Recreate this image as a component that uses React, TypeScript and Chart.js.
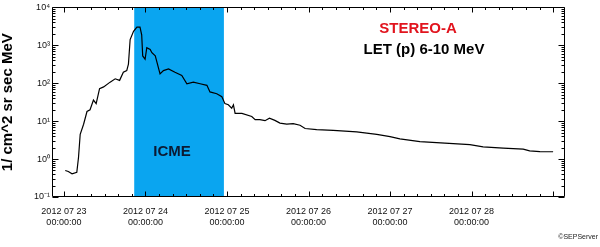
import React, { useEffect, useRef } from "react";
import { Chart, registerables } from "chart.js";

Chart.register(...registerables);

// Hours since 2012-07-23 00:00 UT
const hours = [
  0.4, 1.3, 2.4, 3.8, 4.3, 4.8, 5.8, 6.8, 7.7, 8.7, 9.5, 10.5, 11.7, 13.6, 15.1, 16.4,
  17.5, 18.5, 19.0, 19.5, 20.5, 21.5, 22.4, 22.9, 23.2, 23.9, 24.4, 25.4, 25.9, 26.9,
  28.3, 29.3, 30.8, 32.7, 34.7, 36.2, 38.1, 40.1, 42.1, 43.0, 45.0, 46.5, 47.4, 48.4,
  49.4, 49.9, 50.4, 52.4, 55.3, 56.3, 57.7, 59.2, 60.5, 62.1, 63.6, 65.6, 67.5, 69.5,
  71.0, 74.4, 79.3, 86.2, 92.1, 96.0, 98.9, 104.8, 109.7, 119.5, 123.4, 129.3, 135.2,
  137.1, 140.1, 144.0,
];
// Proton intensity, 1/(cm^2 sr sec MeV)
const flux = [
  0.5, 0.47, 0.41, 0.45, 1.1, 4.5, 8.3, 18, 20, 36, 29, 72, 80, 107, 131, 119,
  195, 216, 320, 1420, 2350, 3030, 3030, 1900, 525, 430, 870, 780, 640, 530,
  176, 216, 238, 195, 160, 97, 107, 97, 88, 59, 53, 44, 29, 27,
  22, 27, 16, 16, 13.3, 11, 11, 10.3, 12, 10.5, 8.9, 8.4, 8.6, 7.8,
  6.4, 6.0, 5.7, 5.2, 4.5, 3.9, 3.4, 2.9, 2.7, 2.4, 2.1, 1.94, 1.83,
  1.65, 1.58, 1.56,
];

const dayTicks = [0, 24, 48, 72, 96, 120];
const dayLabels = ["2012 07 23", "2012 07 24", "2012 07 25", "2012 07 26", "2012 07 27", "2012 07 28"];
const timeLabel = "00:00:00";
const decadeTicks = [0.1, 1, 10, 100, 1000, 10000];
const decadeLabels = ["10\u207B\u00B9", "10\u2070", "10\u00B9", "10\u00B2", "10\u00B3", "10\u2074"];
const icmeStart = 20.7;
const icmeEnd = 47.1;
const xMin = -3.5;
const xMax = 147.5;
const yMin = 0.1;
const yMax = 10000;

const FONT = '"Liberation Sans", Arial, sans-serif';

const plotPlugin = {
  id: "plotDecor",
  beforeDatasetsDraw(chart: any) {
    const { ctx, chartArea, scales } = chart;
    const { top, bottom } = chartArea;
    const x = scales.x;
    const x0 = x.getPixelForValue(icmeStart);
    const x1 = x.getPixelForValue(icmeEnd);
    ctx.save();
    ctx.fillStyle = "rgb(10,165,240)";
    ctx.fillRect(x0, top, x1 - x0, bottom - top);
    ctx.fillStyle = "#0c1a33";
    ctx.font = `bold 15px ${FONT}`;
    ctx.textAlign = "center";
    ctx.textBaseline = "middle";
    ctx.fillText("ICME", 172, 152);
    ctx.restore();
  },
  afterDraw(chart: any) {
    const { ctx, chartArea, scales } = chart;
    const { left, right, top, bottom } = chartArea;
    const x = scales.x;
    const y = scales.y;
    ctx.save();
    ctx.strokeStyle = "#000";
    ctx.lineWidth = 1;
    const L = Math.round(left) + 0.5;
    const R = Math.round(right) - 0.5;
    const T = Math.round(top) + 0.5;
    const B = Math.round(bottom) - 0.5;
    ctx.beginPath();
    ctx.rect(L, T, R - L, B - T);
    ctx.stroke();
    ctx.beginPath();
    // x ticks every 4 hours, major at day boundaries
    for (let h = Math.ceil(xMin / 4) * 4; h <= xMax; h += 4) {
      const px = Math.round(x.getPixelForValue(h)) + 0.5;
      const len = h % 24 === 0 ? 5 : 2.5;
      ctx.moveTo(px, B);
      ctx.lineTo(px, B - len);
      ctx.moveTo(px, T);
      ctx.lineTo(px, T + len);
    }
    // y ticks
    for (let d = -1; d <= 4; d++) {
      for (let k = 1; k <= 9; k++) {
        const v = k * Math.pow(10, d);
        if (v > yMax * 1.0001) break;
        const py = Math.round(y.getPixelForValue(v)) + 0.5;
        const len = k === 1 ? 6 : 3;
        ctx.moveTo(L, py);
        ctx.lineTo(L + len, py);
        ctx.moveTo(R, py);
        ctx.lineTo(R - len, py);
      }
    }
    ctx.stroke();
    ctx.textAlign = "center";
    ctx.textBaseline = "middle";
    ctx.font = `bold 15px ${FONT}`;
    ctx.fillStyle = "rgb(225,20,30)";
    ctx.fillText("STEREO-A", 418, 29);
    ctx.fillStyle = "#000";
    ctx.fillText("LET (p) 6-10 MeV", 424, 50);
    ctx.font = `7px ${FONT}`;
    ctx.textAlign = "right";
    ctx.fillStyle = "#222";
    ctx.fillText("\u00A9SEPServer", 598, 237);
    ctx.restore();
  },
};

export default function App() {
  const ref = useRef<HTMLCanvasElement | null>(null);
  useEffect(() => {
    if (!ref.current) return;
    const chart = new Chart(ref.current, {
      type: "line",
      data: {
        datasets: [
          {
            data: hours.map((h, i) => ({ x: h, y: flux[i] })),
            borderColor: "#000",
            borderWidth: 1.2,
            pointRadius: 0,
            tension: 0,
            fill: false,
          },
        ],
      },
      options: {
        animation: false,
        responsive: false,
        maintainAspectRatio: false,
        devicePixelRatio: 1,
        layout: { padding: { left: 0, top: 4, right: 35, bottom: 0 } },
        plugins: { legend: { display: false }, tooltip: { enabled: false } },
        scales: {
          x: {
            type: "linear",
            min: xMin,
            max: xMax,
            grid: { display: false, drawTicks: false },
            border: { display: false },
            afterBuildTicks: (s: any) => {
              s.ticks = dayTicks.map((v) => ({ value: v }));
            },
            afterFit: (s: any) => {
              s.height = 50;
            },
            ticks: {
              autoSkip: false,
              maxRotation: 0,
              padding: 9,
              color: "#111",
              font: { family: FONT, size: 9, lineHeight: 1.25 },
              callback: (_v: any, i: number) => [dayLabels[i], timeLabel],
            },
          },
          y: {
            type: "logarithmic",
            min: yMin,
            max: yMax,
            grid: { display: false, drawTicks: false },
            border: { display: false },
            afterBuildTicks: (s: any) => {
              s.ticks = decadeTicks.map((v) => ({ value: v }));
            },
            afterFit: (s: any) => {
              s.width = 52;
            },
            title: {
              display: true,
              text: "1/ cm^2 sr sec MeV",
              color: "#000",
              font: { family: FONT, size: 15, weight: "bold", lineHeight: 1.1 },
              padding: { top: 0, bottom: 0 },
            },
            ticks: {
              autoSkip: false,
              padding: 2,
              color: "#111",
              font: { family: FONT, size: 9 },
              callback: (_v: any, i: number) => decadeLabels[i],
            },
          },
        },
      },
      plugins: [plotPlugin],
    } as any);
    return () => chart.destroy();
  }, []);
  return (
    <div style={{ position: "absolute", left: 0, top: 0, width: 600, height: 247, background: "#fff" }}>
      <canvas ref={ref} width={600} height={247} style={{ display: "block" }} />
    </div>
  );
}
